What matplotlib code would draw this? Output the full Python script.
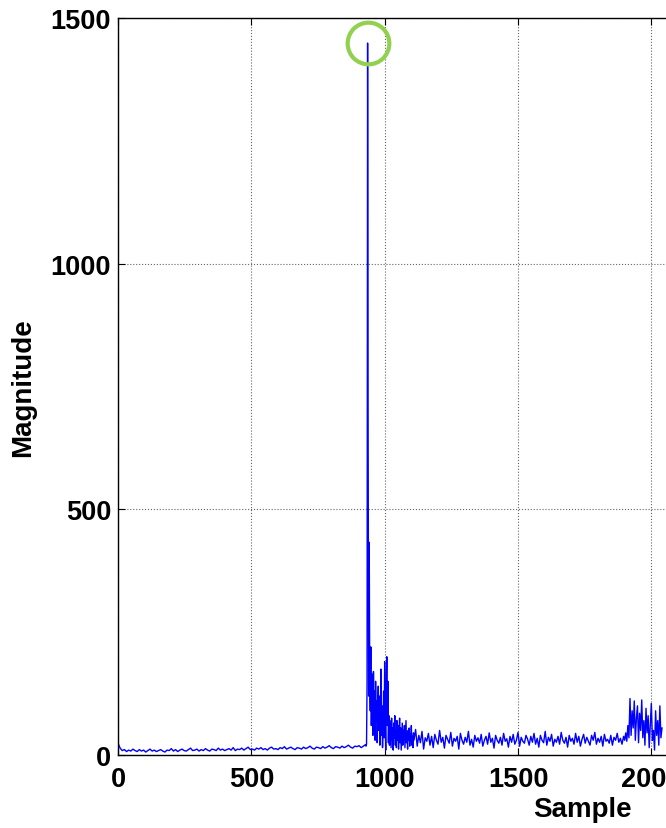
import numpy as np
import matplotlib
matplotlib.use("Agg")
import matplotlib.pyplot as plt

# ---- data ----
base_start, base_step = 0, 8
base_vals = [24, 14, 9, 11, 7, 10, 8, 12, 9, 7,
             11, 8, 10, 6, 9, 12, 8, 10, 7, 9,
             11, 8, 6, 10, 9, 13, 8, 11, 7, 10,
             12, 9, 8, 11, 14, 9, 10, 12, 8, 11,
             9, 13, 10, 8, 12, 11, 9, 14, 10, 12,
             9, 11, 13, 10, 15, 9, 12, 11, 14, 10,
             13, 16, 11, 12, 10, 14, 12, 15, 11, 13,
             10, 14, 16, 12, 13, 11, 15, 13, 17, 12,
             14, 16, 13, 11, 15, 14, 12, 16, 13, 15,
             18, 14, 12, 16, 15, 13, 17, 14, 16, 19,
             15, 13, 17, 16, 14, 18, 15, 17, 20, 16,
             14, 18, 17, 19, 15, 18, 21]

peak_start, peak_step = 930, 2
peak_vals = [18, 22, 145, 1449, 650, 120, 433, 160, 90, 220,
             60, 165, 110, 40, 170, 85, 130, 30, 150, 70,
             110, 25, 95, 140, 50, 120, 20, 80, 175, 40,
             100, 15, 60, 130, 35, 190, 70, 10, 120, 200,
             60, 150, 25, 80, 20, 70, 40, 15, 75, 30,
             55, 10, 65, 35, 80, 20, 50, 15, 70, 30,
             60, 12, 45, 75, 25, 55, 10, 40, 65, 20,
             50, 30, 60, 15, 45, 70, 25, 40, 12, 50,
             30, 55, 18, 42, 28, 60, 20, 38, 15, 45]

mid_start, mid_step = 1110, 6
mid_vals = [30, 52, 18, 40, 25, 48, 12, 35, 28, 44,
            20, 38, 15, 42, 30, 22, 50, 26, 36, 14,
            40, 32, 24, 46, 18, 34, 28, 38, 12, 44,
            30, 22, 36, 26, 48, 20, 32, 16, 40, 28,
            35, 24, 42, 18, 30, 38, 22, 45, 26, 34,
            14, 40, 30, 24, 36, 20, 44, 28, 33, 16,
            38, 26, 42, 22, 30, 46, 18, 36, 28, 24,
            40, 32, 20, 38, 26, 44, 22, 34, 16, 40,
            30, 25, 48, 20, 36, 28, 42, 18, 32, 26,
            38, 22, 46, 30, 24, 36, 16, 40, 28, 34,
            22, 44, 26, 38, 18, 32, 42, 24, 36, 28,
            20, 40, 30, 46, 22, 34, 26, 38, 18, 42,
            28, 32, 24, 40, 20, 36, 30, 44, 26, 34,
            22, 38]

end_start, end_step = 1900, 4
end_vals = [30, 45, 28, 60, 35, 115, 40, 90, 55, 110,
            30, 75, 100, 25, 85, 50, 112, 35, 70, 20,
            95, 45, 80, 15, 60, 105, 30, 50, 10, 90,
            40, 70, 20, 100, 35, 55]

xticks = [0, 500, 1000, 1500, 2000]
yticks = [0, 500, 1000, 1500]

# ---- assemble ----
segs = [(base_start, base_step, base_vals), (peak_start, peak_step, peak_vals),
        (mid_start, mid_step, mid_vals), (end_start, end_step, end_vals)]
x = np.concatenate([s + st * np.arange(len(v)) for s, st, v in segs])
y = np.concatenate([np.asarray(v, float) for _, _, v in segs])

plt.rcParams['font.family'] = ['Liberation Sans', 'DejaVu Sans']
fig = plt.figure(figsize=(6.66, 8.29), dpi=100)
ax = fig.add_axes([118 / 666, 73 / 829, 548 / 666, 737 / 829])

ax.plot(x, y, color='#0000ff', lw=1.0)

ipk = int(np.argmax(y))
ax.plot([x[ipk]], [y[ipk]], marker='o', ms=30, mfc='none', mec='#92d050', mew=3.0,
        clip_on=False)

ax.set_xlim(0, 2055)
ax.set_ylim(0, 1500)
ax.set_xticks(xticks)
ax.set_yticks(yticks)
ax.grid(True, linestyle=':', color='#666666', lw=0.8)
ax.tick_params(direction='in', length=5, width=0.8, top=True, right=False,
               labelsize=19.5)
ax.tick_params(axis='x', pad=8)
ax.tick_params(axis='y', pad=5)
for lab in ax.get_xticklabels() + ax.get_yticklabels():
    lab.set_fontweight('bold')
ax.spines['right'].set_visible(False)
for s in ['left', 'top', 'bottom']:
    ax.spines[s].set_linewidth(1.0)

ax.set_ylabel('Magnitude', fontsize=20, fontweight='bold')
ax.yaxis.set_label_coords(-0.15, 0.5)
ax.set_xlabel('Sample', fontsize=20, fontweight='bold')
ax.xaxis.set_label_coords(0.847, -0.055)

fig.savefig('out.png', dpi=100)
